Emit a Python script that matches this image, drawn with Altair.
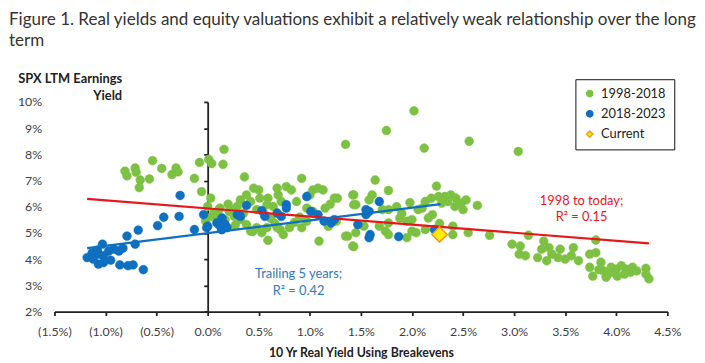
import altair as alt
import pandas as pd

# ---- data ----
green_x = [-0.81, -0.79, -0.71, -0.70, -0.66, -0.67, -0.57, -0.54, -0.45, -0.35, -0.31, -0.29,
           -0.13, -0.08, 0.01, 0.04, 0.15, 0.16, -0.06, 0.00, -0.02, 0.04,
           0.36, 0.92, 0.45, 0.50, 0.38, 0.32, 0.29, 0.42, 0.51, 0.59, 0.58, 0.48, 0.21, 0.11,
           0.26, 0.68, 0.69, 0.77, 0.82, 0.72, 0.64, 1.03, 1.08, 1.13, 1.00, 1.24, 1.27, 0.87,
           0.97, 1.03, 0.32, 0.38, 0.42, 0.48, 0.53, 0.58, 0.59, 0.68, 0.74, 0.71, 0.80, 0.92,
           1.09, 0.97, 1.26, 1.35, 1.42, 1.42, 1.43, 0.03, 0.17, 0.06, 0.12, 0.24, 0.20, 0.10,
           0.35, 0.62, 0.85, 1.15, 1.20, 0.55, 0.27, 0.44, 0.66, 0.90, 1.18,
           1.64, 2.24, 1.43, 1.77, 1.61, 1.45, 1.58, 1.71, 1.77, 1.98, 2.13, 2.19, 2.26, 2.32,
           2.38, 2.43, 2.35, 2.29, 2.42, 2.48, 2.53, 2.50, 2.64, 2.06, 2.16, 1.88, 1.95, 2.00,
           1.77, 1.68, 1.74, 1.77, 1.95, 2.00, 2.04, 2.13, 2.40, 2.40, 2.55, 2.76, 1.37, 1.43,
           1.45, 1.53, 2.27, 1.90, 2.10, 2.20, 1.85,
           2.02, 1.75, 1.35, 2.12, 2.56, 3.04,
           3.14, 3.29, 3.80, 2.98, 3.06, 3.05, 3.11, 3.23, 3.27, 3.34, 3.32, 3.37, 3.45, 3.43,
           3.50, 3.58, 3.56, 3.63, 3.74, 3.80, 3.85, 3.74, 3.77, 3.87, 3.92, 3.95, 4.00, 4.05,
           4.10, 4.16, 4.01, 3.90, 3.97, 4.08, 4.14, 4.29, 4.32, 4.29, 4.20, 3.83]
green_y = [7.36, 7.18, 7.48, 7.31, 7.02, 6.73, 7.06, 7.76, 7.46, 7.23, 7.48, 7.33,
           7.08, 7.69, 7.81, 7.65, 7.62, 8.19, 6.58, 6.01, 5.45, 5.63,
           7.14, 7.08, 6.71, 6.64, 6.45, 6.26, 6.01, 6.20, 6.33, 6.33, 6.08, 5.89, 5.82, 5.89,
           5.63, 6.71, 6.45, 6.77, 6.64, 6.20, 6.01, 6.64, 6.71, 6.64, 6.45, 6.33, 6.33, 6.20,
           5.95, 5.82, 5.51, 5.32, 5.07, 5.20, 5.01, 5.20, 4.72, 5.20, 4.94, 5.13, 5.20, 5.20,
           4.69, 5.45, 5.45, 4.88, 4.50, 6.45, 6.08, 6.33, 5.51, 5.75, 5.95, 5.90, 6.10, 5.55,
           5.75, 5.55, 5.40, 5.95, 6.10, 5.75, 5.30, 5.05, 5.35, 5.60, 5.25,
           7.02, 6.79, 6.45, 6.62, 6.45, 6.08, 6.26, 5.89, 5.89, 6.16, 6.20, 6.33, 6.39, 6.39,
           6.45, 6.33, 6.20, 6.14, 6.01, 6.14, 6.26, 5.89, 6.05, 5.89, 5.57, 5.57, 5.45, 5.51,
           5.38, 5.26, 5.07, 4.94, 4.82, 5.07, 5.01, 5.13, 5.26, 4.94, 5.01, 4.91, 4.88, 4.48,
           5.01, 5.26, 5.36, 5.75, 5.95, 5.70, 6.00,
           9.66, 8.91, 8.38, 8.24, 8.50, 8.11,
           4.91, 4.69, 4.73, 4.57, 4.50, 4.19, 4.13, 4.06, 4.38, 4.44, 3.94, 4.19, 4.38, 4.06,
           4.00, 4.44, 4.13, 3.94, 4.19, 4.25, 3.88, 3.69, 3.35, 3.56, 3.43, 3.69, 3.62, 3.75,
           3.62, 3.69, 3.35, 3.31, 3.50, 3.43, 3.50, 3.65, 3.25, 3.43, 3.55, 3.60]

blue_x = [-1.18, -1.13, -1.08, -1.03, -1.07, -1.02, -0.97, -0.92, -0.87, -0.83, -0.95, -1.07,
          -1.02, -0.86, -0.78, -0.73, -0.63, -1.12, -0.79, -0.68, -0.71, -0.49, -0.43, -0.28,
          -0.27, -0.13, -0.04, -0.01, 0.11, 0.16, 0.135,
          0.38, 0.97, 0.77, 0.77, 0.53, 0.56, 0.68, 0.72, 0.29, 0.32, 0.14, 0.09, 0.13, 0.17,
          0.14, 0.19, 0.00, 1.01, 1.08, 1.14, 1.21, 1.24,
          1.68, 1.55, 1.58, 1.55, 1.47, 1.59, 1.58, 1.87, 2.22]
blue_y = [4.06, 4.25, 4.34, 4.57, 4.19, 4.13, 4.31, 4.38, 4.31, 4.42, 3.96, 3.81,
          3.87, 3.78, 3.75, 3.78, 3.60, 4.00, 4.88, 5.11, 4.57, 5.28, 5.60, 5.63,
          6.43, 5.13, 5.70, 5.20, 5.32, 5.35, 5.13,
          6.05, 6.39, 6.08, 5.95, 5.85, 5.63, 5.76, 5.63, 5.70, 5.63, 5.57, 5.38, 5.26, 5.32,
          5.13, 5.20, 5.26, 5.82, 5.70, 5.45, 5.38, 5.51,
          6.20, 5.89, 5.82, 5.70, 5.32, 4.94, 4.82, 4.86, 5.13]

current_x = [2.27]
current_y = [4.94]

# fitted trend lines (end points)
red_line_x = [-1.18, 4.32]
red_line_y = [6.30, 4.60]
blue_line_x = [-1.18, 2.28]
blue_line_y = [4.42, 6.10]

series_names = ["1998-2018", "2018-2023", "Current"]
x_ticks = [-1.5, -1.0, -0.5, 0.0, 0.5, 1.0, 1.5, 2.0, 2.5, 3.0, 3.5, 4.0, 4.5]
y_ticks = [2, 3, 4, 5, 6, 7, 8, 9, 10]

# ---- tables ----
pts = pd.concat([
    pd.DataFrame({"x": green_x, "y": green_y, "series": series_names[0]}),
    pd.DataFrame({"x": blue_x, "y": blue_y, "series": series_names[1]}),
], ignore_index=True)
cur = pd.DataFrame({"x": current_x, "y": current_y, "series": series_names[2]})
red_df = pd.DataFrame({"x": red_line_x, "y": red_line_y})
blue_df = pd.DataFrame({"x": blue_line_x, "y": blue_line_y})

GREEN = "#7dc143"
BLUE = "#0f6fc0"
RED = "#e8161b"
FONT = "Lato"

xscale = alt.Scale(domain=[-1.5, 4.5], nice=False, zero=False)
yscale = alt.Scale(domain=[2, 10], nice=False, zero=False)

xaxis = alt.Axis(
    values=x_ticks, grid=False, domainColor="#222", domainWidth=1.8,
    tickColor="#222", tickWidth=1.8, tickSize=4, labelPadding=10, labelFlush=False,
    labelOverlap=False,
    labelExpr="datum.value < 0 ? '(' + format(-datum.value, '.1f') + '%)' : format(datum.value, '.1f') + '%'",
    labelFontSize=12.5, labelColor="#404040", labelFont=FONT,
    title="10 Yr Real Yield Using Breakevens", titleFont=FONT, titleFontSize=12.5,
    titleFontWeight="bold", titleColor="#222", titlePadding=9,
)
yaxis_labels = alt.Axis(
    orient="left", values=y_ticks, grid=False, domain=False, ticks=False, tickSize=0,
    labelPadding=13, labelFlush=False, labelOverlap=False,
    labelExpr="datum.value + '%'", labelFontSize=12.5, labelColor="#404040", labelFont=FONT,
    title=["SPX LTM Earnings", "Yield"], titleAngle=0, titleAlign="right",
    titleBaseline="top", titleX=68, titleY=-30, titleLineHeight=18,
    titleFont=FONT, titleFontSize=13, titleFontWeight="bold", titleColor="#222",
)
yaxis_zero = alt.Axis(
    orient="left", values=y_ticks, grid=False, labels=False, domain=True, ticks=True,
    tickSize=4, domainColor="#222", domainWidth=1.8, tickColor="#222", tickWidth=1.8,
    offset=-155, title=None,
)

X = alt.X("x:Q", scale=xscale, axis=xaxis)

color_scale = alt.Scale(domain=series_names, range=[GREEN, BLUE, "#ffee00"])
stroke_scale = alt.Scale(domain=series_names, range=[GREEN, BLUE, "#f39c12"])
shape_scale = alt.Scale(domain=series_names, range=["circle", "circle", "diamond"])
legend = alt.Legend(
    title=None, orient="none", legendX=527, legendY=-23, strokeColor="#111",
    padding=8, labelFont=FONT, labelFontSize=13, labelColor="#222",
    symbolSize=40, rowPadding=6.5, symbolStrokeWidth=1.5, labelOffset=5,
)

points = alt.Chart(pts).mark_point(filled=True, opacity=1, size=80, strokeWidth=0.5).encode(
    x=X,
    y=alt.Y("y:Q", scale=yscale, axis=yaxis_labels),
    color=alt.Color("series:N", scale=color_scale, legend=legend),
    stroke=alt.Stroke("series:N", scale=stroke_scale, legend=legend),
    shape=alt.Shape("series:N", scale=shape_scale, legend=legend),
)

red_line = alt.Chart(red_df).mark_line(color=RED, strokeWidth=2.2).encode(
    x=X, y=alt.Y("y:Q", scale=yscale, axis=yaxis_zero)
)
blue_line = alt.Chart(blue_df).mark_line(color=BLUE, strokeWidth=2.2).encode(
    x=X, y=alt.Y("y:Q", scale=yscale, axis=None)
)

current = alt.Chart(cur).mark_point(filled=True, opacity=1, size=240, strokeWidth=1.6).encode(
    x=X,
    y=alt.Y("y:Q", scale=yscale, axis=None),
    color=alt.Color("series:N", scale=color_scale, legend=legend),
    stroke=alt.Stroke("series:N", scale=stroke_scale, legend=legend),
    shape=alt.Shape("series:N", scale=shape_scale, legend=legend),
)

red_note = alt.Chart().mark_text(
    text="1998 to today;\nR² = 0.15", lineBreak="\n", lineHeight=16.5, color=RED,
    font=FONT, fontSize=13, align="center", baseline="middle",
).encode(
    x=alt.datum(3.66),
    y=alt.YDatum(6.23, scale=yscale, axis=None),
)

blue_note = alt.Chart().mark_text(
    text="Trailing 5 years;\nR² = 0.42", lineBreak="\n", lineHeight=17, color="#2e78c0",
    font=FONT, fontSize=13, align="center", baseline="middle",
).encode(
    x=alt.datum(0.89),
    y=alt.YDatum(3.42, scale=yscale, axis=None),
)

chart = alt.layer(points, red_line, blue_line, current, red_note, blue_note).resolve_axis(
    y="independent"
).properties(
    width=620, height=212,
    autosize=alt.AutoSizeParams(type="none"),
    padding={"left": 47, "top": 93, "right": 30, "bottom": 48},
    title=alt.TitleParams(
        text=["Figure 1. Real yields and equity valuations exhibit a relatively weak relationship over the long", "term"],
        anchor="start", frame="group", dx=-46, offset=23, font=FONT, fontSize=17.2,
        fontWeight="normal", color="#333", lineHeight=22,
    ),
).configure_view(stroke=None)

chart.save("out.html", embed_options={"renderer": "svg", "actions": False})
